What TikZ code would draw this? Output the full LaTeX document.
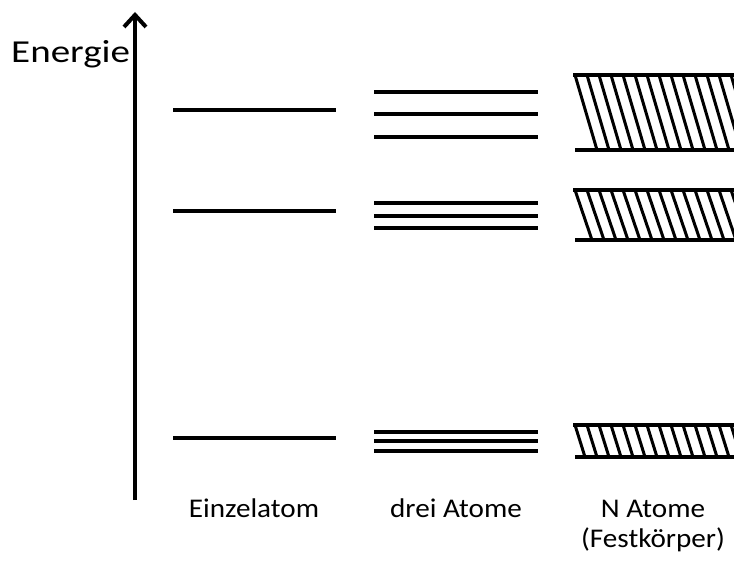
\documentclass[tikz,border=0pt]{standalone}
\usepackage{fontspec}
\setmainfont{Carlito}
\usetikzlibrary{arrows.meta}
\tikzset{
  level/.style={line width=4pt},
  hatch/.style={line width=3pt},
  lbl/.style={font=\fontsize{27}{30}\selectfont, inner sep=0pt, xscale=1.08},
}
\begin{document}
\begin{tikzpicture}[x=1pt,y=-1pt]
\useasboundingbox (0,0) rectangle (734,561);
% axis
\coordinate (axb) at (135,500);
\coordinate (axt) at (135,12);
\draw[line width=4pt,-{Straight Barb[length=12pt,width=22pt]}] (axb) -- (axt);
\node[font=\fontsize{32}{35}\selectfont, inner sep=0pt, anchor=base west, xscale=1.22] (en) at (11,63) {Energie};
% single atom
\foreach \y in {110,211,438}{\draw[level] (173,\y) -- (336,\y);}
% three atoms
\foreach \y in {92,114,137,203,216,228,432,441,451}{\draw[level] (374,\y) -- (538,\y);}
% N atoms bands
\begin{scope}
\clip (560,0) rectangle (734,561);
% band 1
\draw[level] (573,75) -- (740,75);
\draw[level] (575,150) -- (740,150);
\foreach \k in {0,...,14}{\draw[hatch] (575+12*\k,75) -- (597+12*\k,150);}
% band 2
\draw[level] (573,190) -- (740,190);
\draw[level] (575,240) -- (740,240);
\foreach \k in {0,...,14}{\draw[hatch] (575+12*\k,190) -- (592+12*\k,240);}
% band 3
\draw[level] (573,425) -- (740,425);
\draw[level] (575,457) -- (740,457);
\foreach \k in {0,...,14}{\draw[hatch] (575+12*\k,425) -- (585+12*\k,457);}
\end{scope}
% labels
\node[lbl, anchor=base] (l1) at (254,517) {Einzelatom};
\node[lbl, anchor=base] (l2) at (456,517) {drei Atome};
\node[lbl, anchor=base] (l3) at (653,517) {N Atome};
\node[lbl, anchor=base] (l4) at (653,547) {(Festkörper)};
\end{tikzpicture}
\end{document}
